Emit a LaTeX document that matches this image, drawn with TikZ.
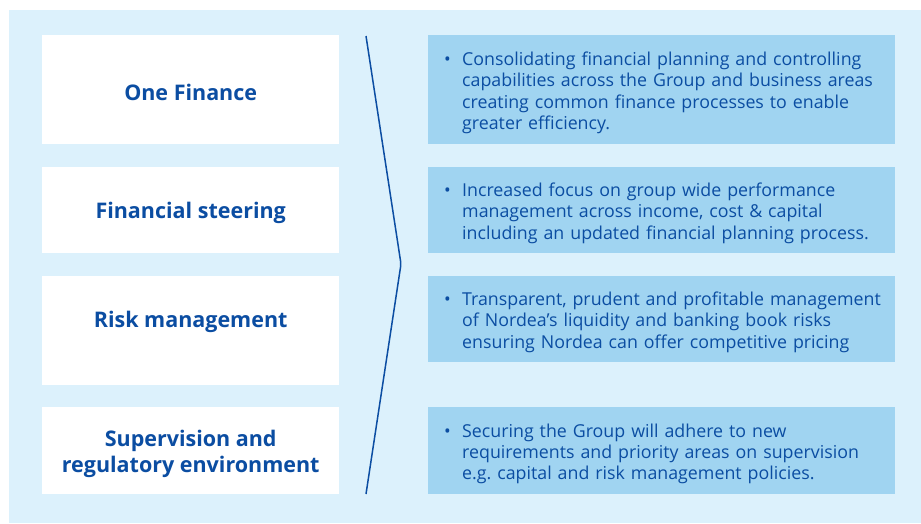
\documentclass[tikz,border=0pt]{standalone}
\usepackage{fontspec}
\setmainfont{Open Sans}
\usepackage{xcolor}
\usepackage{tikz}
\usetikzlibrary{positioning}

\definecolor{nbg}{HTML}{DCF1FC}
\definecolor{nbox}{HTML}{A0D4F1}
\definecolor{nblue}{HTML}{0B4DA2}

\newcommand{\bulletitem}[1]{\hspace*{16pt}\raisebox{-3pt}[\height][\depth]{\makebox[18pt][l]{\textbullet}\parbox[t]{430pt}{\raggedright #1}}}

\frenchspacing
\begin{document}
\begin{tikzpicture}[
  x=1pt, y=-1pt,
  head/.style={draw=none, fill=white, minimum width=297pt, inner sep=0pt,
               anchor=north west},
  headtxt/.style={align=center, text=nblue, yshift=-3pt,
                  font=\fontsize{21.5}{26}\selectfont\bfseries},
  detail/.style={draw=none, fill=nbox, minimum width=467pt, text width=467pt,
                 inner sep=0pt, align=left, anchor=north west, text=nblue,
                 font=\fontsize{17.8}{21.3}\selectfont},
  chev/.style={draw=nblue, line width=1.5pt, rounded corners=3pt}
]
\useasboundingbox (0,0) rectangle (921,523);
\fill[nbg] (9,10) rectangle (921,523);

% left column
\node[head, minimum height=109pt] (of) at (42,35)  {};
\node[head, minimum height=86pt]  (fs) at (42,167) {};
\node[head, minimum height=109pt] (rm) at (42,276) {};
\node[head, minimum height=87pt]  (sr) at (42,407) {};

% right column
\node[detail, minimum height=109pt] (ofd) at (428,35) {\bulletitem{Consolidating financial planning and controlling\\
capabilities across the Group and business areas\\
creating common finance processes to enable\\
greater efficiency.}};
\node[detail, minimum height=86pt] (fsd) at (428,167) {\bulletitem{Increased focus on group wide performance\\
management across income, cost \& capital\\
including an updated financial planning process.}};
\node[detail, minimum height=86pt] (rmd) at (428,276) {\bulletitem{Transparent, prudent and profitable management\\
of Nordea’s liquidity and banking book risks\\
ensuring Nordea can offer competitive pricing}};
\node[detail, minimum height=87pt] (srd) at (428,407) {\bulletitem{Securing the Group will adhere to new\\
requirements and priority areas on supervision\\
e.g. capital and risk management policies.}};

% titles
\node[headtxt] (oft) at (of.center |- ofd.center) {One Finance};
\node[headtxt] (fst) at (fs.center |- fsd.center) {Financial steering};
\node[headtxt] (rmt) at (rm.center |- rmd.center) {Risk management};
\node[headtxt] (srt) at (sr.center |- srd.center) {Supervision and\\ regulatory environment};

% chevron
\coordinate (ctop) at (366,36);
\coordinate (ctip) at (401,264);
\coordinate (cbot) at (366,494);
\draw[chev] (ctop) -- (ctip) -- (cbot);
\end{tikzpicture}
\end{document}
